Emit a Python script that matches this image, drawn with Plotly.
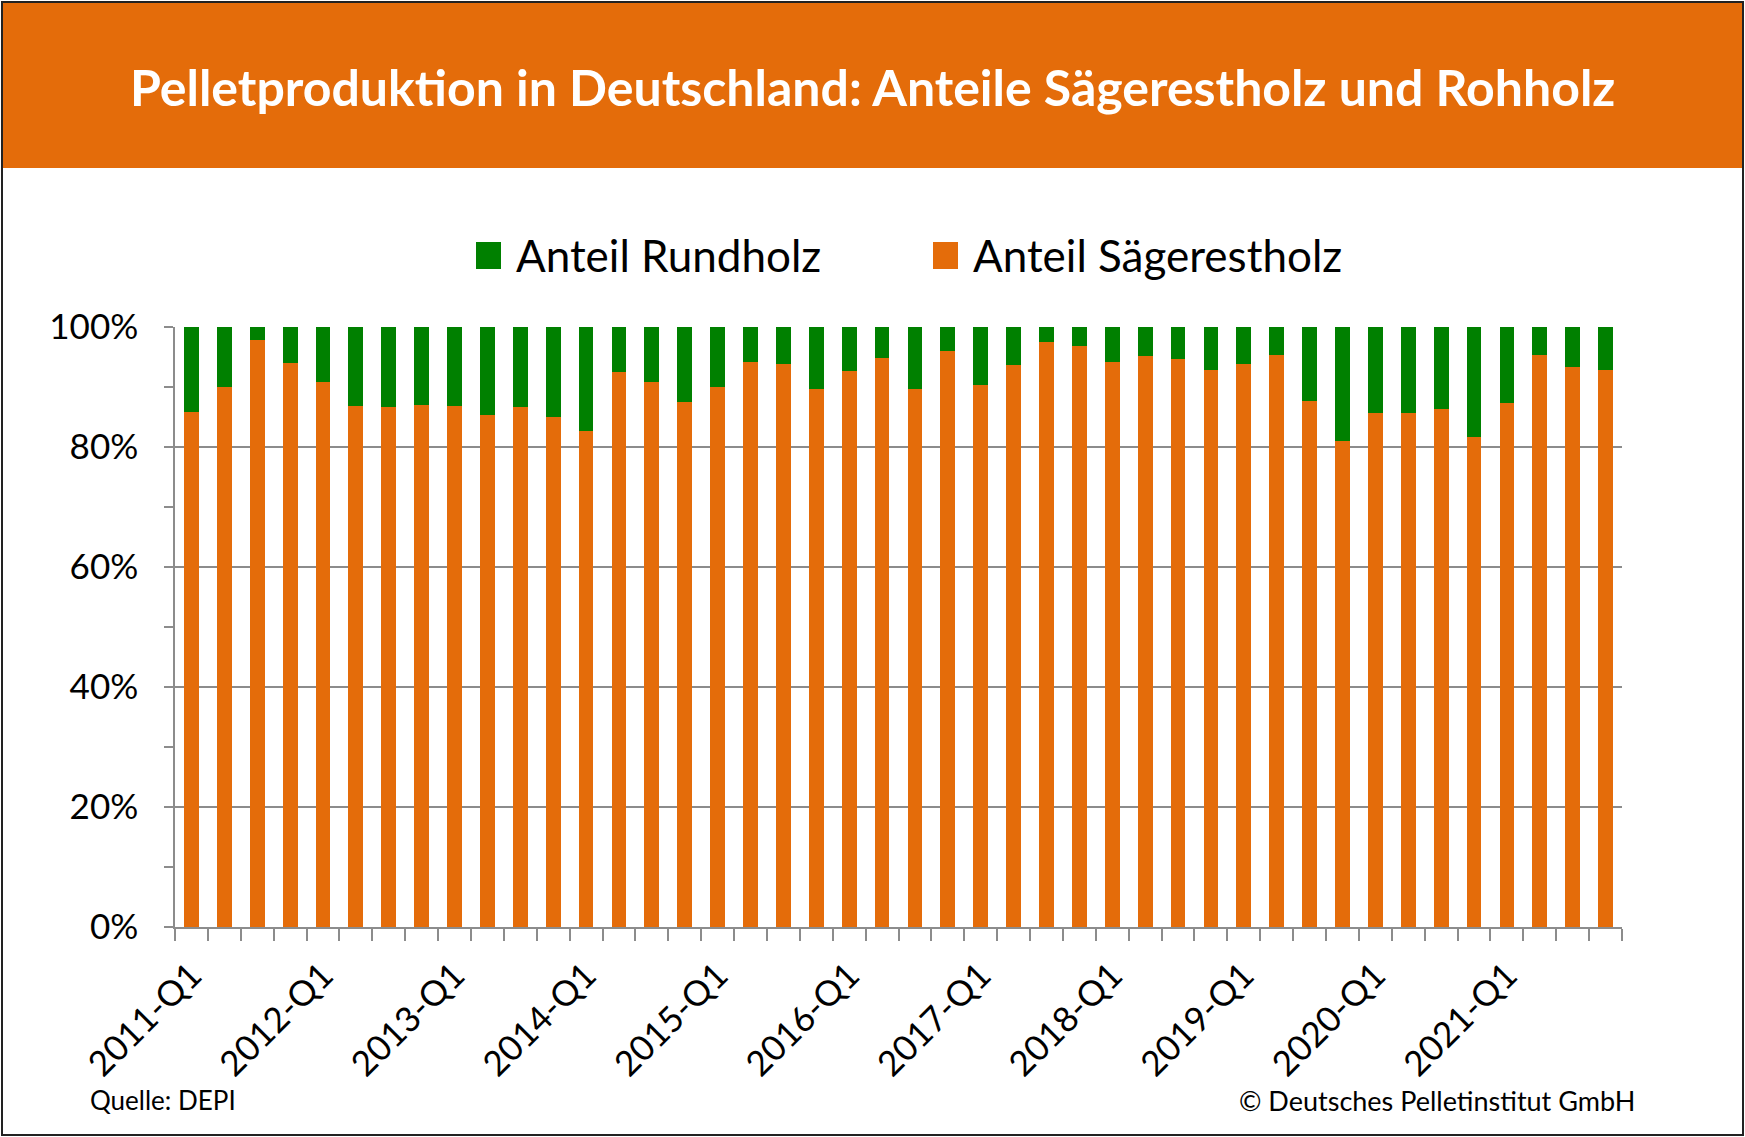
import plotly.graph_objects as go

W, H = 1745, 1137

categories = [f"{y}-Q{q}" for y in range(2011, 2022) for q in range(1, 5)]

saegerestholz = [85.8, 90.0, 97.9, 94.0, 90.9, 86.9, 86.6, 87.0, 86.9, 85.4, 86.7, 85.0,
                 82.7, 92.5, 90.8, 87.5, 90.0, 94.1, 93.8, 89.6, 92.7, 94.8, 89.6, 96.0,
                 90.4, 93.6, 97.5, 96.8, 94.1, 95.2, 94.6, 92.9, 93.8, 95.3, 87.7, 81.0,
                 85.7, 85.7, 86.3, 81.6, 87.3, 95.4, 93.4, 92.9]
rundholz = [14.2, 10.0, 2.1, 6.0, 9.1, 13.1, 13.4, 13.0, 13.1, 14.6, 13.3, 15.0,
            17.3, 7.5, 9.2, 12.5, 10.0, 5.9, 6.2, 10.4, 7.3, 5.2, 10.4, 4.0,
            9.6, 6.4, 2.5, 3.2, 5.9, 4.8, 5.4, 7.1, 6.2, 4.7, 12.3, 19.0,
            14.3, 14.3, 13.7, 18.4, 12.7, 4.6, 6.6, 7.1]

tick_text = [c if c.endswith("Q1") else "" for c in categories]

name_r = "Anteil Rundholz"
name_s = "Anteil Sägerestholz"
title = "Pelletproduktion in Deutschland: Anteile Sägerestholz und Rohholz"
source = "Quelle: DEPI"
copyright_txt = "© Deutsches Pelletinstitut GmbH"

ORANGE = "#E46C0A"
GREEN = "#008000"
GRID = "#8C8C8C"
FONT = "Lato"

def fx(px):
    return px / W

def fy(py):
    return 1 - py / H

PL, PR, PT, PB = 175, 1622, 327, 927

fig = go.Figure()
fig.add_trace(go.Bar(x=categories, y=saegerestholz, name=name_s, marker_color=ORANGE,
                     marker_line_width=0))
fig.add_trace(go.Bar(x=categories, y=rundholz, name=name_r, marker_color=GREEN,
                     marker_line_width=0))

shapes = [
    dict(type="rect", xref="paper", yref="paper", x0=fx(2), x1=fx(1743), y0=fy(168), y1=fy(2),
         fillcolor=ORANGE, line_width=0, layer="below"),
    dict(type="rect", xref="paper", yref="paper", x0=fx(2), x1=fx(1743), y0=fy(1135), y1=fy(2),
         fillcolor="rgba(0,0,0,0)", line=dict(color="#222222", width=2)),
    dict(type="rect", xref="paper", yref="paper", x0=fx(476), x1=fx(501), y0=fy(269), y1=fy(242),
         fillcolor=GREEN, line_width=0),
    dict(type="rect", xref="paper", yref="paper", x0=fx(933), x1=fx(958), y0=fy(269), y1=fy(242),
         fillcolor=ORANGE, line_width=0),
]

annotations = [
    dict(text=title, xref="paper", yref="paper", x=0.5, y=fy(87), xanchor="center", yanchor="middle",
         showarrow=False, font=dict(family=FONT, size=50, color="white", weight=700)),
    dict(text=name_r, xref="paper", yref="paper", x=fx(514), y=fy(255), xanchor="left", yanchor="middle",
         showarrow=False, font=dict(family=FONT, size=44, color="black")),
    dict(text=name_s, xref="paper", yref="paper", x=fx(971), y=fy(255), xanchor="left", yanchor="middle",
         showarrow=False, font=dict(family=FONT, size=44, color="black")),
    dict(text=source, xref="paper", yref="paper", x=fx(88), y=fy(1100), xanchor="left", yanchor="middle",
         showarrow=False, font=dict(family=FONT, size=26, color="black")),
    dict(text=copyright_txt, xref="paper", yref="paper", x=fx(1637), y=fy(1100), xanchor="right",
         yanchor="middle", showarrow=False, font=dict(family=FONT, size=27, color="black")),
]

fig.update_layout(
    template="none",
    width=W, height=H, autosize=False,
    margin=dict(l=0, r=0, t=0, b=0, pad=0),
    paper_bgcolor="white", plot_bgcolor="white",
    barmode="stack", bargap=0.55,
    showlegend=False,
    shapes=shapes, annotations=annotations,
    font=dict(family=FONT, color="black"),
    xaxis=dict(
        domain=[fx(PL), fx(PR)], automargin=False,
        type="category", tickmode="array", tickvals=categories, ticktext=tick_text,
        tickson="boundaries", ticks="outside", ticklen=12, tickcolor=GRID, tickwidth=1.5,
        tickangle=-45, tickfont=dict(family=FONT, size=35, color="black"),
        ticklabelstandoff=12,
        showline=True, linecolor=GRID, linewidth=1.5, showgrid=False, zeroline=False,
    ),
    yaxis=dict(
        domain=[fy(PB), fy(PT)], automargin=False,
        range=[0, 100], tickmode="linear", tick0=0, dtick=20, ticksuffix="%",
        ticks="outside", ticklen=9, tickcolor=GRID, tickwidth=1.5,
        minor=dict(ticks="outside", ticklen=9, dtick=10, tick0=0, tickcolor=GRID, tickwidth=1.5,
                   showgrid=False),
        tickfont=dict(family=FONT, size=35, color="black"),
        ticklabelstandoff=19,
        showline=True, linecolor=GRID, linewidth=1.5,
        showgrid=True, gridcolor=GRID, gridwidth=1.5, zeroline=False,
    ),
)

fig.write_html("out.html", config={"displayModeBar": False},
               post_script="document.body.style.margin='0';")
